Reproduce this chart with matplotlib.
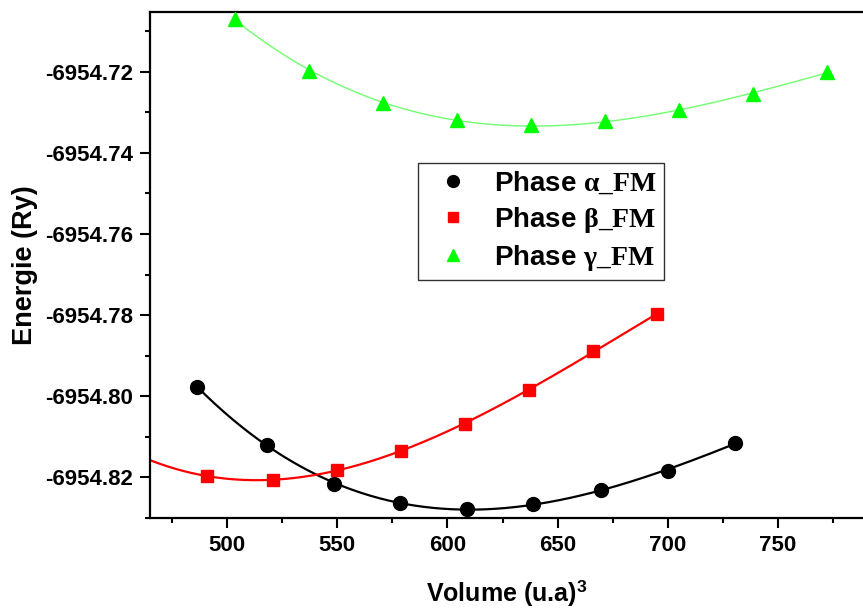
import numpy as np
import matplotlib
matplotlib.use("Agg")
import matplotlib.pyplot as plt
from matplotlib.ticker import MultipleLocator, FormatStrFormatter

plt.rcParams['font.family'] = ['Liberation Sans', 'DejaVu Sans']
plt.rcParams['font.weight'] = 'bold'
plt.rcParams['mathtext.fontset'] = 'custom'
plt.rcParams['mathtext.rm'] = 'Liberation Serif:bold'
plt.rcParams['mathtext.bf'] = 'Liberation Serif:bold'
plt.rcParams['mathtext.it'] = 'Liberation Serif:bold'
plt.rcParams['mathtext.sf'] = 'Liberation Sans:bold'

# Phase alpha_FM
alpha_V = [486.5, 518.0, 548.5, 578.5, 609.0, 639.0, 669.5, 700.0, 730.5]
alpha_E = [-6954.7977, -6954.8122, -6954.8216, -6954.8264, -6954.8278,
           -6954.8267, -6954.8233, -6954.8184, -6954.8116]
# Phase beta_FM
beta_V = [491.0, 521.0, 550.0, 579.0, 608.0, 637.0, 666.0, 695.0]
beta_E = [-6954.8198, -6954.8206, -6954.8183, -6954.8135, -6954.8068,
          -6954.7984, -6954.7890, -6954.7798]
# Phase gamma_FM
gamma_V = [503.6, 537.2, 570.8, 604.4, 638.0, 671.6, 705.2, 738.8, 772.4]
gamma_E = [-6954.7070, -6954.7197, -6954.7277, -6954.7318, -6954.7332,
           -6954.7322, -6954.7294, -6954.7255, -6954.7200]

labels = [r"Phase $\mathrm{\alpha\_FM}$", r"Phase $\mathrm{\beta\_FM}$",
          r"Phase $\mathrm{\gamma\_FM}$"]

fig = plt.figure(figsize=(8.63, 6.08), dpi=100)
ax = fig.add_axes([0.1738, 0.148, 0.8262, 0.833])

x_min, x_max = 465.0, 788.6
y_min, y_max = -6954.8301, -6954.7051

def fit_curve(V, E, x0, x1, deg=3):
    p = np.polyfit(np.array(V) - 600, np.array(E) + 6954.8, deg)
    xs = np.linspace(x0, x1, 300)
    return xs, np.polyval(p, xs - 600) - 6954.8

xs, ys = fit_curve(alpha_V, alpha_E, alpha_V[0], alpha_V[-1])
ax.plot(xs, ys, color='black', lw=1.6, zorder=2)
xs, ys = fit_curve(beta_V, beta_E, x_min, beta_V[-1])
ax.plot(xs, ys, color='#ff0000', lw=1.6, zorder=2)
xs, ys = fit_curve(gamma_V, gamma_E, gamma_V[0], gamma_V[-1])
ax.plot(xs, ys, color='#70ff70', lw=1.0, zorder=2)

ax.plot(alpha_V, alpha_E, 'o', color='black', ms=10, label=labels[0], zorder=3)
ax.plot(beta_V, beta_E, 's', color='#ff0000', ms=9, label=labels[1], zorder=3)
ax.plot(gamma_V, gamma_E, '^', color='#00ff00', ms=10, label=labels[2],
        zorder=3, clip_on=False)

ax.set_xlim(x_min, x_max)
ax.set_ylim(y_min, y_max)
ax.xaxis.set_major_locator(MultipleLocator(50))
ax.xaxis.set_minor_locator(MultipleLocator(25))
ax.yaxis.set_major_locator(MultipleLocator(0.02))
ax.yaxis.set_minor_locator(MultipleLocator(0.01))
ax.yaxis.set_major_formatter(FormatStrFormatter('%.2f'))
ax.tick_params(which='both', direction='out', width=1.5, labelsize=16, pad=4.5)
ax.tick_params(which='major', length=7.5)
ax.tick_params(which='minor', length=3.5)
for lab in ax.get_xticklabels() + ax.get_yticklabels():
    lab.set_fontweight('bold')

for s in ['left', 'bottom', 'top']:
    ax.spines[s].set_linewidth(1.6)
ax.spines['right'].set_visible(False)
ax.tick_params(top=False, right=False)

ax.set_xlabel(r"Volume (u.a)$^{\mathsf{3}}$", fontsize=18, fontweight='bold', labelpad=16)
ax.set_ylabel("Energie (Ry)", fontsize=19.5, fontweight='bold', labelpad=5)

leg = ax.legend(loc='upper left', bbox_to_anchor=(0.376, 0.701), borderaxespad=0,
                fontsize=20, frameon=True, fancybox=False, edgecolor='black',
                markerscale=0.85, handlelength=2.0, handletextpad=0.47,
                borderpad=0.25, labelspacing=0.3)
leg.get_frame().set_linewidth(1.0)
for t in leg.get_texts():
    t.set_fontweight('bold')

fig.savefig('out.png', dpi=100)
